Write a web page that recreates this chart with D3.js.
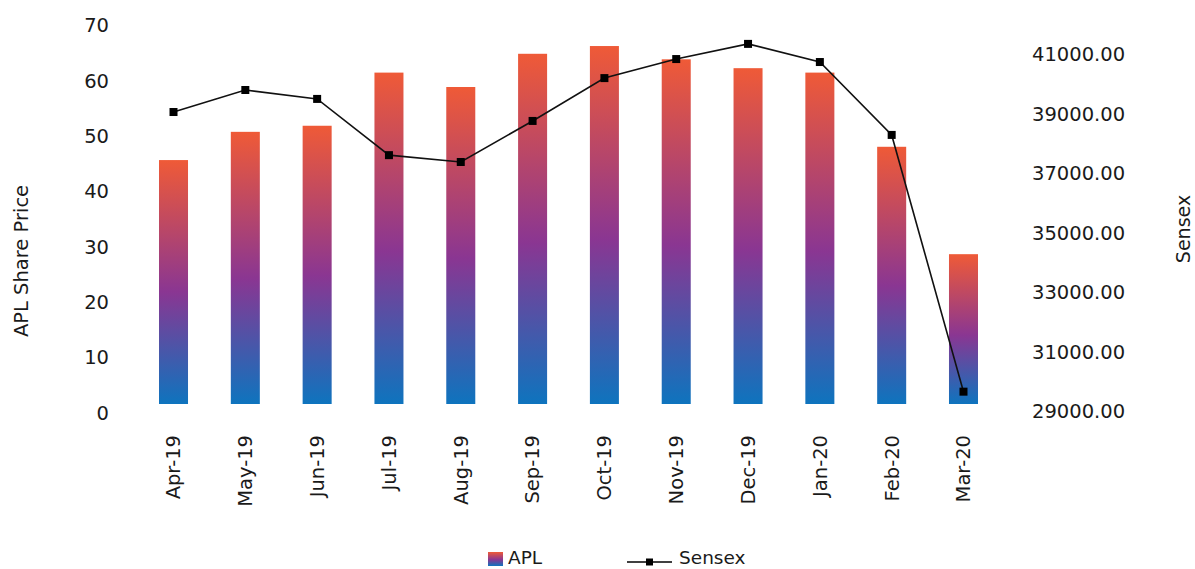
<!DOCTYPE html>
<html>
<head>
<meta charset="utf-8">
<script src="https://cdn.jsdelivr.net/npm/d3@7/dist/d3.min.js"></script>
<style>
  html, body { margin: 0; padding: 0; background: #fff; }
  svg { display: block; }
  text { font-family: "DejaVu Sans", sans-serif; fill: #1a1a1a; }
</style>
</head>
<body>
<svg id="chart" width="1195" height="569"></svg>
<script>
const categories = ["Apr-19","May-19","Jun-19","Jul-19","Aug-19","Sep-19","Oct-19","Nov-19","Dec-19","Jan-20","Feb-20","Mar-20"];
const aplValues = [45.6, 50.7, 51.8, 61.4, 58.8, 64.8, 66.2, 63.8, 62.2, 61.4, 48.0, 28.6];
const sensexValues = [39050, 39790, 39490, 37600, 37370, 38750, 40190, 40830, 41340, 40730, 38280, 29650];
const leftTicks = [0, 10, 20, 30, 40, 50, 60, 70];
const rightTicks = [29000, 31000, 33000, 35000, 37000, 39000, 41000];

const svg = d3.select("#chart");
const FS = 19.5;

const x = d3.scaleBand().domain(categories).range([137.6, 999.4]).paddingInner(0.596).paddingOuter(0.298);
const yL = d3.scaleLinear().domain([0, 70]).range([412.5, 25]);
const yR = d3.scaleLinear().domain([29000, 41000]).range([411, 54]);
const barBottom = yL(0) - 8.5;

// gradient
const defs = svg.append("defs");
const grad = defs.append("linearGradient").attr("id", "barGrad")
  .attr("x1", 0).attr("y1", 0).attr("x2", 0).attr("y2", 1);
grad.append("stop").attr("offset", "0%").attr("stop-color", "#EF5A37");
grad.append("stop").attr("offset", "54%").attr("stop-color", "#8A3692");
grad.append("stop").attr("offset", "100%").attr("stop-color", "#0E74BE");

// bars
svg.append("g").selectAll("rect").data(aplValues).join("rect")
  .attr("x", (d, i) => x(categories[i]))
  .attr("width", x.bandwidth())
  .attr("y", d => yL(d))
  .attr("height", d => barBottom - yL(d))
  .attr("fill", "url(#barGrad)");

// line
const cx = i => x(categories[i]) + x.bandwidth() / 2;
const line = d3.line().x((d, i) => cx(i)).y(d => yR(d));
svg.append("path").datum(sensexValues)
  .attr("d", line).attr("fill", "none").attr("stroke", "#111").attr("stroke-width", 1.6);
svg.append("g").selectAll("rect").data(sensexValues).join("rect")
  .attr("x", (d, i) => cx(i) - 4).attr("y", d => yR(d) - 4)
  .attr("width", 8).attr("height", 8).attr("fill", "#000");

// left axis labels
const axL = d3.axisLeft(yL).tickValues(leftTicks).tickSize(0).tickPadding(0).tickFormat(d3.format("d"));
const gL = svg.append("g").attr("transform", "translate(109,0)").call(axL);
gL.select(".domain").remove();
gL.selectAll("text").attr("font-size", FS).attr("font-family", "DejaVu Sans").attr("fill", "#1a1a1a").attr("dy", "0.35em").attr("x", 0);

// right axis labels
const axR = d3.axisRight(yR).tickValues(rightTicks).tickSize(0).tickPadding(0).tickFormat(d3.format(".2f"));
const gR = svg.append("g").attr("transform", "translate(1032,0)").call(axR);
gR.select(".domain").remove();
gR.selectAll("text").attr("font-size", FS).attr("font-family", "DejaVu Sans").attr("fill", "#1a1a1a").attr("dy", "0.35em").attr("x", 0);

// x labels
const axX = d3.axisBottom(x).tickSize(0).tickPadding(0);
const gX = svg.append("g").attr("transform", "translate(0,435)").call(axX);
gX.select(".domain").remove();
gX.selectAll("text")
  .attr("font-size", FS).attr("font-family", "DejaVu Sans").attr("fill", "#1a1a1a")
  .attr("y", 0).attr("dy", "0.35em")
  .attr("transform", "rotate(-90)")
  .attr("text-anchor", "end");

// axis titles
svg.append("text").attr("transform", "translate(21,261) rotate(-90)")
  .attr("text-anchor", "middle").attr("dy", "0.35em").attr("font-size", 19.5).text("APL Share Price");
svg.append("text").attr("transform", "translate(1183,229) rotate(-90)")
  .attr("text-anchor", "middle").attr("dy", "0.35em").attr("font-size", 19).text("Sensex");

// legend
const lg = svg.append("g");
lg.append("rect").attr("x", 488).attr("y", 552).attr("width", 15).attr("height", 14).attr("fill", "url(#barGrad)");
lg.append("text").attr("x", 508).attr("y", 557.5).attr("dy", "0.35em").attr("font-size", 18.5).text("APL");
lg.append("line").attr("x1", 627).attr("x2", 672).attr("y1", 562).attr("y2", 562).attr("stroke", "#000").attr("stroke-width", 1.6);
lg.append("rect").attr("x", 646).attr("y", 558.5).attr("width", 7).attr("height", 7).attr("fill", "#000");
lg.append("text").attr("x", 679).attr("y", 557.5).attr("dy", "0.35em").attr("font-size", 18.5).text("Sensex");
</script>
</body>
</html>
